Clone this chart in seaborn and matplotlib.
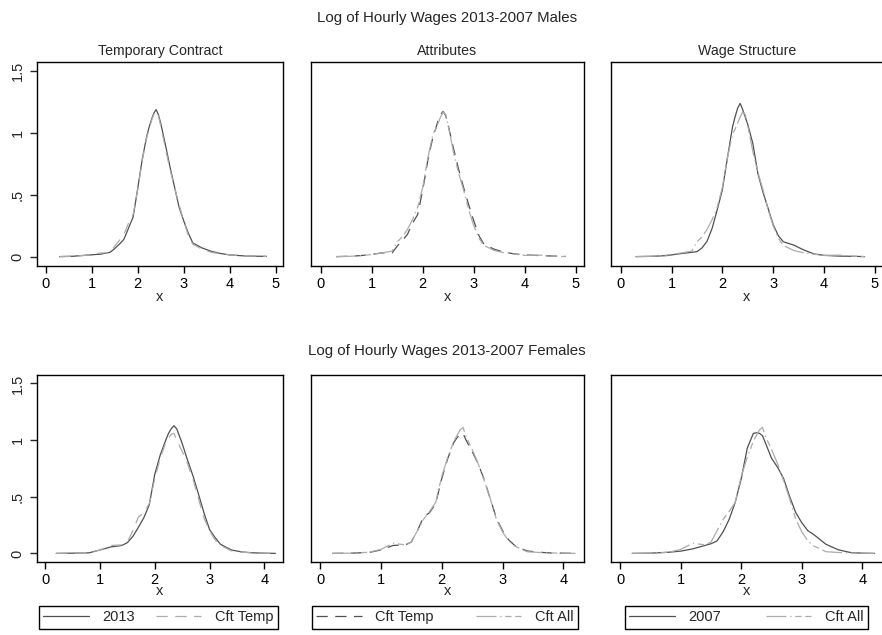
import matplotlib
matplotlib.use("Agg")
import matplotlib.pyplot as plt
import pandas as pd
import seaborn as sns

# ---- kernel density estimates, log hourly wages ----
male_x = [0.3, 0.6, 0.9, 1.2, 1.4, 1.5, 1.6, 1.7, 1.8, 1.9, 2.0, 2.1, 2.2, 2.25, 2.3,
          2.35, 2.4, 2.45, 2.5, 2.6, 2.7, 2.8, 2.9, 3.0, 3.1, 3.2, 3.4, 3.6, 3.8, 4.0,
          4.3, 4.6, 4.8]
male_2013 = [0.000, 0.003, 0.012, 0.020, 0.035, 0.065, 0.100, 0.140, 0.230, 0.320, 0.550,
             0.790, 0.980, 1.050, 1.110, 1.160, 1.190, 1.150, 1.080, 0.910, 0.730, 0.565,
             0.400, 0.290, 0.190, 0.110, 0.070, 0.043, 0.025, 0.014, 0.006, 0.003, 0.002]
male_cft_temp = [0.000, 0.003, 0.012, 0.030, 0.030, 0.085, 0.130, 0.180, 0.270, 0.340, 0.540,
                 0.780, 0.970, 1.030, 1.100, 1.150, 1.175, 1.140, 1.060, 0.880, 0.710, 0.560,
                 0.420, 0.290, 0.170, 0.100, 0.060, 0.035, 0.022, 0.014, 0.008, 0.004, 0.002]
male_cft_all = [0.000, 0.003, 0.012, 0.030, 0.045, 0.120, 0.160, 0.220, 0.300, 0.400, 0.560,
                0.800, 0.990, 1.030, 1.080, 1.130, 1.170, 1.150, 1.060, 0.850, 0.680, 0.540,
                0.380, 0.250, 0.150, 0.090, 0.050, 0.030, 0.020, 0.010, 0.012, 0.003, 0.000]
male_2007 = [0.000, 0.002, 0.008, 0.025, 0.035, 0.040, 0.070, 0.125, 0.230, 0.380, 0.540,
             0.800, 1.050, 1.130, 1.200, 1.240, 1.190, 1.130, 1.070, 0.915, 0.670, 0.520,
             0.390, 0.260, 0.170, 0.120, 0.094, 0.054, 0.022, 0.010, 0.004, 0.002, 0.000]

female_x = [0.2, 0.5, 0.8, 1.0, 1.2, 1.4, 1.5, 1.6, 1.7, 1.8, 1.9, 2.0, 2.1, 2.2, 2.25,
            2.3, 2.35, 2.4, 2.5, 2.6, 2.7, 2.8, 2.9, 3.0, 3.1, 3.2, 3.4, 3.6, 3.8, 4.0, 4.2]
female_2013 = [0.000, 0.002, 0.005, 0.030, 0.057, 0.070, 0.095, 0.150, 0.230, 0.315, 0.430,
               0.700, 0.870, 1.000, 1.060, 1.100, 1.127, 1.100, 0.970, 0.820, 0.680, 0.520,
               0.354, 0.210, 0.140, 0.080, 0.030, 0.012, 0.005, 0.002, 0.000]
female_cft_temp = [0.000, 0.002, 0.008, 0.030, 0.070, 0.075, 0.100, 0.200, 0.320, 0.360, 0.440,
                   0.660, 0.840, 0.980, 1.020, 1.050, 1.060, 1.000, 0.900, 0.790, 0.650, 0.480,
                   0.310, 0.200, 0.120, 0.070, 0.022, 0.010, 0.004, 0.002, 0.000]
female_cft_all = [0.000, 0.002, 0.010, 0.035, 0.090, 0.075, 0.100, 0.200, 0.300, 0.370, 0.450,
                  0.680, 0.850, 0.990, 1.040, 1.090, 1.113, 1.030, 0.920, 0.790, 0.640, 0.480,
                  0.300, 0.190, 0.110, 0.065, 0.015, 0.008, 0.004, 0.002, 0.000]
female_2007 = [0.000, 0.002, 0.010, 0.020, 0.040, 0.070, 0.085, 0.110, 0.190, 0.300, 0.450,
               0.660, 0.930, 1.060, 1.065, 1.060, 1.040, 0.974, 0.840, 0.760, 0.660, 0.500,
               0.360, 0.270, 0.200, 0.165, 0.080, 0.032, 0.008, 0.002, 0.000]

panel_titles = ["Temporary Contract", "Attributes", "Wage Structure"]
row_titles = ["Log of Hourly Wages 2013-2007 Males",
              "Log of Hourly Wages 2013-2007 Females"]
y_ticks = [0, 0.5, 1, 1.5]
y_tick_labels = ["0", ".5", "1", "1.5"]
male_x_ticks = [0, 1, 2, 3, 4, 5]
female_x_ticks = [0, 1, 2, 3, 4]

# ---- styling ----
sns.set_theme(style="ticks")
plt.rcParams["font.family"] = ["Liberation Sans", "DejaVu Sans"]
plt.rcParams["axes.linewidth"] = 1.0
plt.rcParams["xtick.major.width"] = 1.0
plt.rcParams["ytick.major.width"] = 1.0

DARK = "#505050"
LIGHT = "#ababab"
SOLID = "-"
DASH = (0, (9, 6))
LONGDASH_DOT = (0, (16, 3, 1, 3, 5, 3))
FS = 10.5
TITLE_FS = 10.2
SUPTITLE_FS = 10.8
LW = 0.9

W, H = 882, 635
fig = plt.figure(figsize=(W / 100, H / 100), dpi=100)
FS_PX = FS * 100 / 72


def px_axes(left, top, right, bottom):
    return fig.add_axes([left / W, 1 - bottom / H, (right - left) / W, (bottom - top) / H])


def boxed_legend(handles, labels, left, top, spacing=2.0):
    """Two-column framed legend with its upper-left corner at (left, top) pixels."""
    return fig.legend(handles, labels, loc="upper left",
                      bbox_to_anchor=(left / W, 1 - top / H),
                      ncol=2, fontsize=FS, frameon=True, fancybox=False,
                      edgecolor="black", framealpha=1, borderaxespad=0,
                      handlelength=3.1, handletextpad=0.95, borderpad=0.3,
                      columnspacing=spacing)


col_px = [(37, 283), (311, 584), (611, 883)]
row_px = [(62, 266), (375, 562)]

male_sets = [
    [("2013", male_2013, DARK, SOLID), ("Cft Temp", male_cft_temp, LIGHT, DASH)],
    [("Cft Temp", male_cft_temp, DARK, DASH), ("Cft All", male_cft_all, LIGHT, LONGDASH_DOT)],
    [("2007", male_2007, DARK, SOLID), ("Cft All", male_cft_all, LIGHT, LONGDASH_DOT)],
]
female_sets = [
    [("2013", female_2013, DARK, SOLID), ("Cft Temp", female_cft_temp, LIGHT, DASH)],
    [("Cft Temp", female_cft_temp, DARK, DASH), ("Cft All", female_cft_all, LIGHT, LONGDASH_DOT)],
    [("2007", female_2007, DARK, SOLID), ("Cft All", female_cft_all, LIGHT, LONGDASH_DOT)],
]

rows = [
    (male_x, male_sets, male_x_ticks, (-0.19, 5.16), -0.5),
    (female_x, female_sets, female_x_ticks, (-0.15, 4.34), -2.5),
]
legend_px = [(39, 278), (312, 578), (625, 868)]
legend_top = 606
legend_specs = []

for r, (xs, sets, xticks, xlim, lpad) in enumerate(rows):
    top, bottom = row_px[r]
    for c in range(3):
        left, right = col_px[c]
        ax = px_axes(left, top, right, bottom)
        for label, ys, color, ls in sets[c]:
            df = pd.DataFrame({"x": xs, "density": ys})
            sns.lineplot(data=df, x="x", y="density", ax=ax, color=color,
                         linestyle=ls, linewidth=LW, label=label, legend=False)
        ax.set_xlim(*xlim)
        ax.set_ylim(-0.076, 1.575)
        ax.set_xticks(xticks)
        ax.set_xticklabels([str(t) for t in xticks])
        ax.tick_params(axis="x", length=5, pad=3, labelsize=FS, colors="black")
        ax.set_xlabel("x", fontsize=FS, labelpad=lpad)
        if c == 0:
            ax.set_yticks(y_ticks)
            ax.set_yticklabels(y_tick_labels, rotation=90, va="center")
            ax.tick_params(axis="y", length=5, pad=4, labelsize=FS)
            ax.set_ylabel("")
        else:
            ax.set_yticks([])
            ax.set_ylabel("")
        for s in ax.spines.values():
            s.set_color("black")
            s.set_linewidth(1.0)
        if r == 0:
            ax.set_title(panel_titles[c], fontsize=TITLE_FS, pad=5)
        else:
            handles, labels = ax.get_legend_handles_labels()
            legend_specs.append((handles, labels, *legend_px[c]))

fig.text(447 / W, 1 - 18 / H, row_titles[0], ha="center", va="center", fontsize=SUPTITLE_FS)
fig.text(447 / W, 1 - 351 / H, row_titles[1], ha="center", va="center", fontsize=SUPTITLE_FS)

# legends: widen the gap between the two entries so each frame spans its panel
renderer = fig.canvas.get_renderer()
for handles, labels, l0, l1 in legend_specs:
    leg = boxed_legend(handles, labels, l0, legend_top)
    width = leg.get_window_extent(renderer).width
    leg.remove()
    spacing = 2.0 + ((l1 - l0) - width) / FS_PX
    boxed_legend(handles, labels, l0, legend_top, spacing=spacing)

fig.savefig("out.png", dpi=100, facecolor="white")
